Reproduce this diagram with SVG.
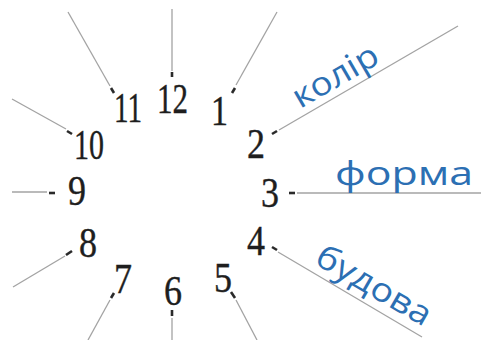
<svg xmlns="http://www.w3.org/2000/svg" width="481" height="340" viewBox="0 0 481 340">
<style>
.ln{stroke:#a3a3a3;stroke-width:1.3;fill:none}
.tk{stroke:#2a2a2a;stroke-width:2.6;fill:none}
.num{font-family:"Liberation Serif",serif;font-size:42px;fill:#1e1e1e;stroke:#1e1e1e;stroke-width:0.4}
.lbl{font-family:"Open Sans","DejaVu Sans",sans-serif;font-size:33px;fill:#2c6fb3}
</style>
<rect width="481" height="340" fill="#fff"/>
<g id="connectors">
<line class="ln" x1="172" y1="9" x2="172" y2="71"/><line class="tk" x1="172" y1="72" x2="172" y2="77"/>
<line class="ln" x1="68" y1="12" x2="110" y2="86"/><line class="tk" x1="111" y1="88" x2="114" y2="93"/>
<line class="ln" x1="277" y1="12" x2="236" y2="85"/><line class="tk" x1="235" y1="88" x2="232" y2="93"/>
<line class="ln" x1="12" y1="99" x2="66" y2="129"/><line class="tk" x1="67" y1="131" x2="72" y2="134"/>
<line class="ln" x1="458" y1="26" x2="279" y2="130"/><line class="tk" x1="277" y1="131" x2="272" y2="134"/>
<line class="ln" x1="12" y1="192" x2="47" y2="192"/><line class="tk" x1="49" y1="193" x2="55" y2="193"/>
<line class="ln" x1="297" y1="193" x2="481" y2="193"/><line class="tk" x1="289" y1="193" x2="295" y2="193"/>
<line class="ln" x1="13" y1="287" x2="65" y2="256"/><line class="tk" x1="66" y1="255" x2="72" y2="251"/>
<line class="ln" x1="278" y1="252" x2="422" y2="337"/><line class="tk" x1="272" y1="247" x2="277" y2="250"/>
<line class="ln" x1="88" y1="340" x2="110" y2="300"/><line class="tk" x1="111" y1="298" x2="114" y2="293"/>
<line class="ln" x1="172" y1="318" x2="172" y2="340"/><line class="tk" x1="172" y1="310" x2="172" y2="316"/>
<line class="ln" x1="236" y1="300" x2="257" y2="340"/><line class="tk" x1="231" y1="292" x2="235" y2="298"/>
</g>
<g id="n12"><text class="num" x="157" y="113" textLength="31" lengthAdjust="spacingAndGlyphs">12</text></g>
<g id="n11"><text class="num" x="114" y="122" textLength="28" lengthAdjust="spacingAndGlyphs">11</text></g>
<g id="n1"><text class="num" x="211" y="125" textLength="17" lengthAdjust="spacingAndGlyphs">1</text></g>
<g id="n10"><text class="num" x="74" y="159" textLength="30" lengthAdjust="spacingAndGlyphs">10</text></g>
<g id="n9"><text class="num" x="68" y="205" textLength="18" lengthAdjust="spacingAndGlyphs">9</text></g>
<g id="n2"><text class="num" x="247" y="158" textLength="18" lengthAdjust="spacingAndGlyphs">2</text></g>
<g id="n3"><text class="num" x="261" y="207" textLength="18" lengthAdjust="spacingAndGlyphs">3</text></g>
<g id="n4"><text class="num" x="247" y="255" textLength="18" lengthAdjust="spacingAndGlyphs">4</text></g>
<g id="n8"><text class="num" x="79" y="257" textLength="18" lengthAdjust="spacingAndGlyphs">8</text></g>
<g id="n7"><text class="num" x="114" y="293" textLength="18" lengthAdjust="spacingAndGlyphs">7</text></g>
<g id="n6"><text class="num" x="164" y="305" textLength="18" lengthAdjust="spacingAndGlyphs">6</text></g>
<g id="n5"><text class="num" x="214" y="292" textLength="18" lengthAdjust="spacingAndGlyphs">5</text></g>
<g id="label-kolir"><text class="lbl" transform="translate(300,109) rotate(-30)" textLength="94" lengthAdjust="spacingAndGlyphs">колір</text></g>
<g id="label-forma"><text class="lbl" x="335" y="185" textLength="138" lengthAdjust="spacingAndGlyphs">форма</text></g>
<g id="label-budova"><text class="lbl" transform="translate(313,263) rotate(30)" textLength="128" lengthAdjust="spacingAndGlyphs">будова</text></g>
</svg>
